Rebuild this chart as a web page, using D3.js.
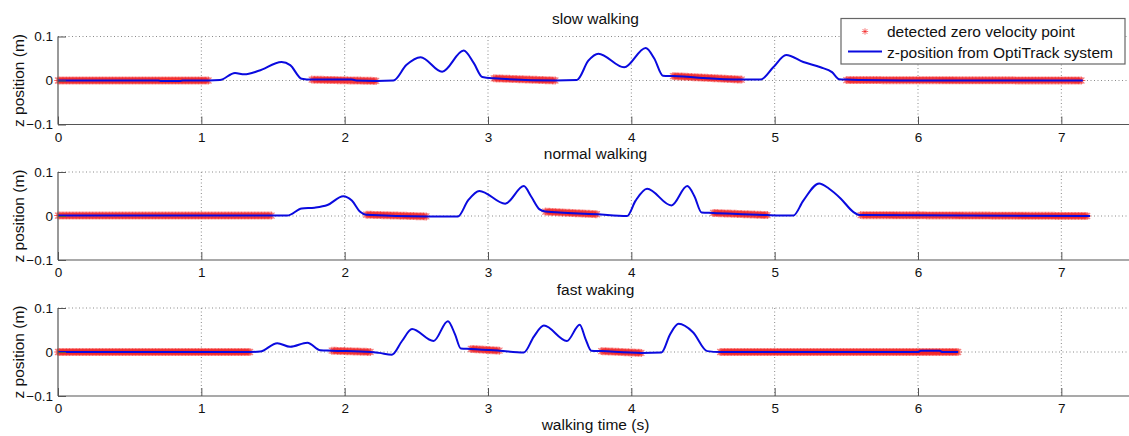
<!DOCTYPE html>
<html>
<head>
<meta charset="utf-8">
<script src="https://cdn.jsdelivr.net/npm/d3@7"></script>
<style>
	body { margin: 0; background: #fff; }
	svg { display: block; font-family: "Liberation Sans", Arial, sans-serif; }
	.grid line { stroke: #8a8a8a; stroke-dasharray: 1,2.5; }
</style>
</head>
<body>
<svg id="chart" width="1129" height="436"></svg>
<script>
/*=================
=== Data
=================*/

const titles = ['slow walking', 'normal walking', 'fast waking'];
const xTicks = [0, 1, 2, 3, 4, 5, 6, 7];
const yTicks = [-0.1, 0, 0.1];

// z-position from OptiTrack, [time s, z m]
const slowLine = [[0,0],[0.7,0],[0.72,-0.001],[0.85,-0.001],[0.87,0],[1.05,0],[1.13,0.001],[1.235,0.017],[1.30,0.014],[1.40,0.022],[1.56,0.042],[1.62,0.035],[1.70,0.004],[1.77,0.002],[2.05,0.002],[2.08,0],[2.22,-0.001],[2.34,0],[2.43,0.035],[2.53,0.053],[2.68,0.020],[2.83,0.068],[2.90,0.040],[2.96,0.008],[3.04,0.005],[3.47,0],[3.62,0.001],[3.70,0.045],[3.77,0.061],[3.95,0.030],[4.10,0.074],[4.16,0.050],[4.22,0.011],[4.29,0.010],[4.77,0.002],[4.90,0.002],[4.99,0.030],[5.08,0.058],[5.20,0.042],[5.32,0.030],[5.40,0.019],[5.45,0.003],[5.50,0.002],[5.60,0.001],[5.87,0],[7.15,0]];
const normalLine = [[0,0.001],[1.49,0.001],[1.60,0.001],[1.70,0.017],[1.79,0.019],[1.88,0.025],[1.99,0.045],[2.05,0.035],[2.11,0.009],[2.15,0.003],[2.57,-0.001],[2.79,-0.001],[2.86,0.035],[2.94,0.057],[3.12,0.028],[3.25,0.068],[3.30,0.045],[3.36,0.015],[3.40,0.010],[3.76,0.004],[3.97,0],[4.03,0.035],[4.11,0.062],[4.28,0.024],[4.39,0.068],[4.44,0.045],[4.49,0.008],[4.57,0.007],[4.95,0.002],[5.13,0.001],[5.20,0.035],[5.31,0.074],[5.38,0.062],[5.46,0.040],[5.55,0.009],[5.60,0.002],[7.20,0]];
const fastLine = [[0,0],[1.34,0],[1.41,0.001],[1.53,0.020],[1.62,0.012],[1.74,0.021],[1.83,0.004],[1.91,0.003],[2.18,0],[2.24,-0.002],[2.33,-0.006],[2.40,0.025],[2.47,0.052],[2.62,0.025],[2.72,0.070],[2.77,0.040],[2.81,0.008],[2.88,0.007],[3.08,0.003],[3.25,-0.001],[3.32,0.035],[3.39,0.060],[3.55,0.025],[3.64,0.062],[3.68,0.030],[3.72,0.003],[3.79,0.002],[4.07,-0.002],[4.21,-0.001],[4.27,0.040],[4.33,0.064],[4.43,0.045],[4.53,0.002],[4.62,0],[6.0,0],[6.02,0.003],[6.15,0.003],[6.17,0],[6.28,0]];

// detected zero velocity intervals, [t start, t end, z start, z end]
const slowStance = [[0,1.05,0,0],[1.77,2.22,0.002,-0.001],[3.04,3.47,0.005,0],[4.29,4.77,0.010,0.002],[5.50,7.14,0.001,0]];
const normalStance = [[0,1.49,0.001,0.001],[2.15,2.57,0.003,-0.001],[3.40,3.76,0.010,0.004],[4.57,4.95,0.007,0.002],[5.60,7.18,0.002,0]];
const fastStance = [[0,1.34,0,0],[1.91,2.18,0.003,0],[2.88,3.08,0.007,0.003],[3.79,4.07,0.002,-0.002],[4.62,6.28,0,0]];

const sampleStep = 0.01; // detector runs at 100 Hz

const lines = [slowLine, normalLine, fastLine];
const stances = [slowStance, normalStance, fastStance];

/*=================
=== Layout
=================*/

const plotLeft = 58;
const plotRight = 1133;
const plotTops = [36.5, 172, 308];
const plotHeight = 88;

const xScale = d3.scaleLinear()
	.domain([0, 7.5])
	.range([plotLeft, plotRight]);

const svg = d3.select('#chart');

// asterisk marker like matlab '*'
const star = 'M-4,0H4M0,-4V4M-3,-3L3,3M-3,3L3,-3';

titles.forEach((title, i) => {
	const top = plotTops[i];
	const yScale = d3.scaleLinear()
		.domain([-0.1, 0.1])
		.range([top + plotHeight, top]);

	const g = svg.append('g');

	// grid
	const grid = g.append('g').attr('class', 'grid');
	grid.selectAll('.gx')
		.data(xTicks.filter(d => d > 0))
		.enter()
		.append('line')
			.attr('x1', d => xScale(d)).attr('x2', d => xScale(d))
			.attr('y1', top).attr('y2', top + plotHeight);
	grid.selectAll('.gy')
		.data(yTicks.filter(d => d > -0.1))
		.enter()
		.append('line')
			.attr('x1', plotLeft).attr('x2', plotRight)
			.attr('y1', d => yScale(d)).attr('y2', d => yScale(d));

	// zero velocity points
	const pts = [];
	stances[i].forEach(s => {
		const n = Math.round((s[1] - s[0]) / sampleStep);
		for (let k = 0; k <= n; k++) {
			pts.push([s[0] + k * sampleStep, s[2] + (s[3] - s[2]) * k / Math.max(n, 1)]);
		}
	});
	g.append('g')
		.selectAll('path')
		.data(pts)
		.enter()
		.append('path')
			.attr('d', star)
			.attr('transform', d => `translate(${xScale(d[0])},${yScale(d[1])})`)
			.attr('fill', 'none')
			.attr('stroke', '#f21a1a')
			.attr('stroke-opacity', 0.55)
			.attr('stroke-width', 1.1);

	// OptiTrack line
	const line = d3.line()
		.x(d => xScale(d[0]))
		.y(d => yScale(d[1]))
		.curve(d3.curveMonotoneX);
	g.append('path')
		.datum(lines[i])
		.attr('d', line)
		.attr('fill', 'none')
		.attr('stroke', '#0a0adf')
		.attr('stroke-width', 2);

	// axes
	const xAxis = g.append('g')
		.attr('transform', `translate(0, ${top + plotHeight})`)
		.call(d3.axisBottom(xScale).tickValues(xTicks).tickSize(-8).tickPadding(6).tickFormat(d3.format('d')));
	const yAxis = g.append('g')
		.attr('transform', `translate(${plotLeft}, 0)`)
		.call(d3.axisLeft(yScale).tickValues(yTicks).tickSize(-8).tickPadding(5).tickFormat(d => d === 0 ? '0' : d3.format('.1f')(d)));

	[xAxis, yAxis].forEach(ax => {
		ax.select('.domain').attr('stroke', '#555').attr('stroke-width', 1.2);
		ax.selectAll('.tick line').attr('stroke', '#555');
		ax.selectAll('.tick text').attr('fill', '#111').style('font-size', '13.5px');
	});
	xAxis.select('.domain').attr('d', `M${plotLeft},0H${plotRight}`);
	yAxis.select('.domain').attr('d', `M0,${top}V${top + plotHeight}`);
	xAxis.selectAll('.tick text').attr('dy', '0.85em');

	// title
	svg.append('text')
		.attr('x', (plotLeft + plotRight) / 2)
		.attr('y', top - 13)
		.attr('text-anchor', 'middle')
		.style('font-size', '15.5px')
		.attr('fill', '#111')
		.text(title);

	// y label
	svg.append('text')
		.attr('transform', `translate(24, ${top + plotHeight / 2}) rotate(-90)`)
		.attr('text-anchor', 'middle')
		.style('font-size', '15.5px')
		.attr('fill', '#111')
		.text('z position (m)');
});

// x label
svg.append('text')
	.attr('x', (plotLeft + plotRight) / 2)
	.attr('y', 430)
	.attr('text-anchor', 'middle')
	.style('font-size', '15.5px')
	.attr('fill', '#111')
	.text('walking time (s)');

/*=================
=== Legend
=================*/
const legend = svg.append('g');
legend.append('rect')
	.attr('x', 841).attr('y', 18.5)
	.attr('width', 284).attr('height', 45.5)
	.attr('fill', '#fff')
	.attr('stroke', '#666')
	.attr('stroke-width', 1.2);
legend.append('path')
	.attr('d', star)
	.attr('transform', 'translate(865, 31.5) scale(0.8)')
	.attr('fill', 'none')
	.attr('stroke', '#f21a1a')
	.attr('stroke-opacity', 0.8);
legend.append('line')
	.attr('x1', 848).attr('x2', 882)
	.attr('y1', 51.5).attr('y2', 51.5)
	.attr('stroke', '#0a0adf')
	.attr('stroke-width', 2);
legend.append('text')
	.attr('x', 887).attr('y', 36.5)
	.style('font-size', '15.5px')
	.attr('fill', '#111')
	.text('detected zero velocity point');
legend.append('text')
	.attr('x', 887).attr('y', 57.5)
	.style('font-size', '15.5px')
	.attr('fill', '#111')
	.text('z-position from OptiTrack system');
</script>
</body>
</html>
